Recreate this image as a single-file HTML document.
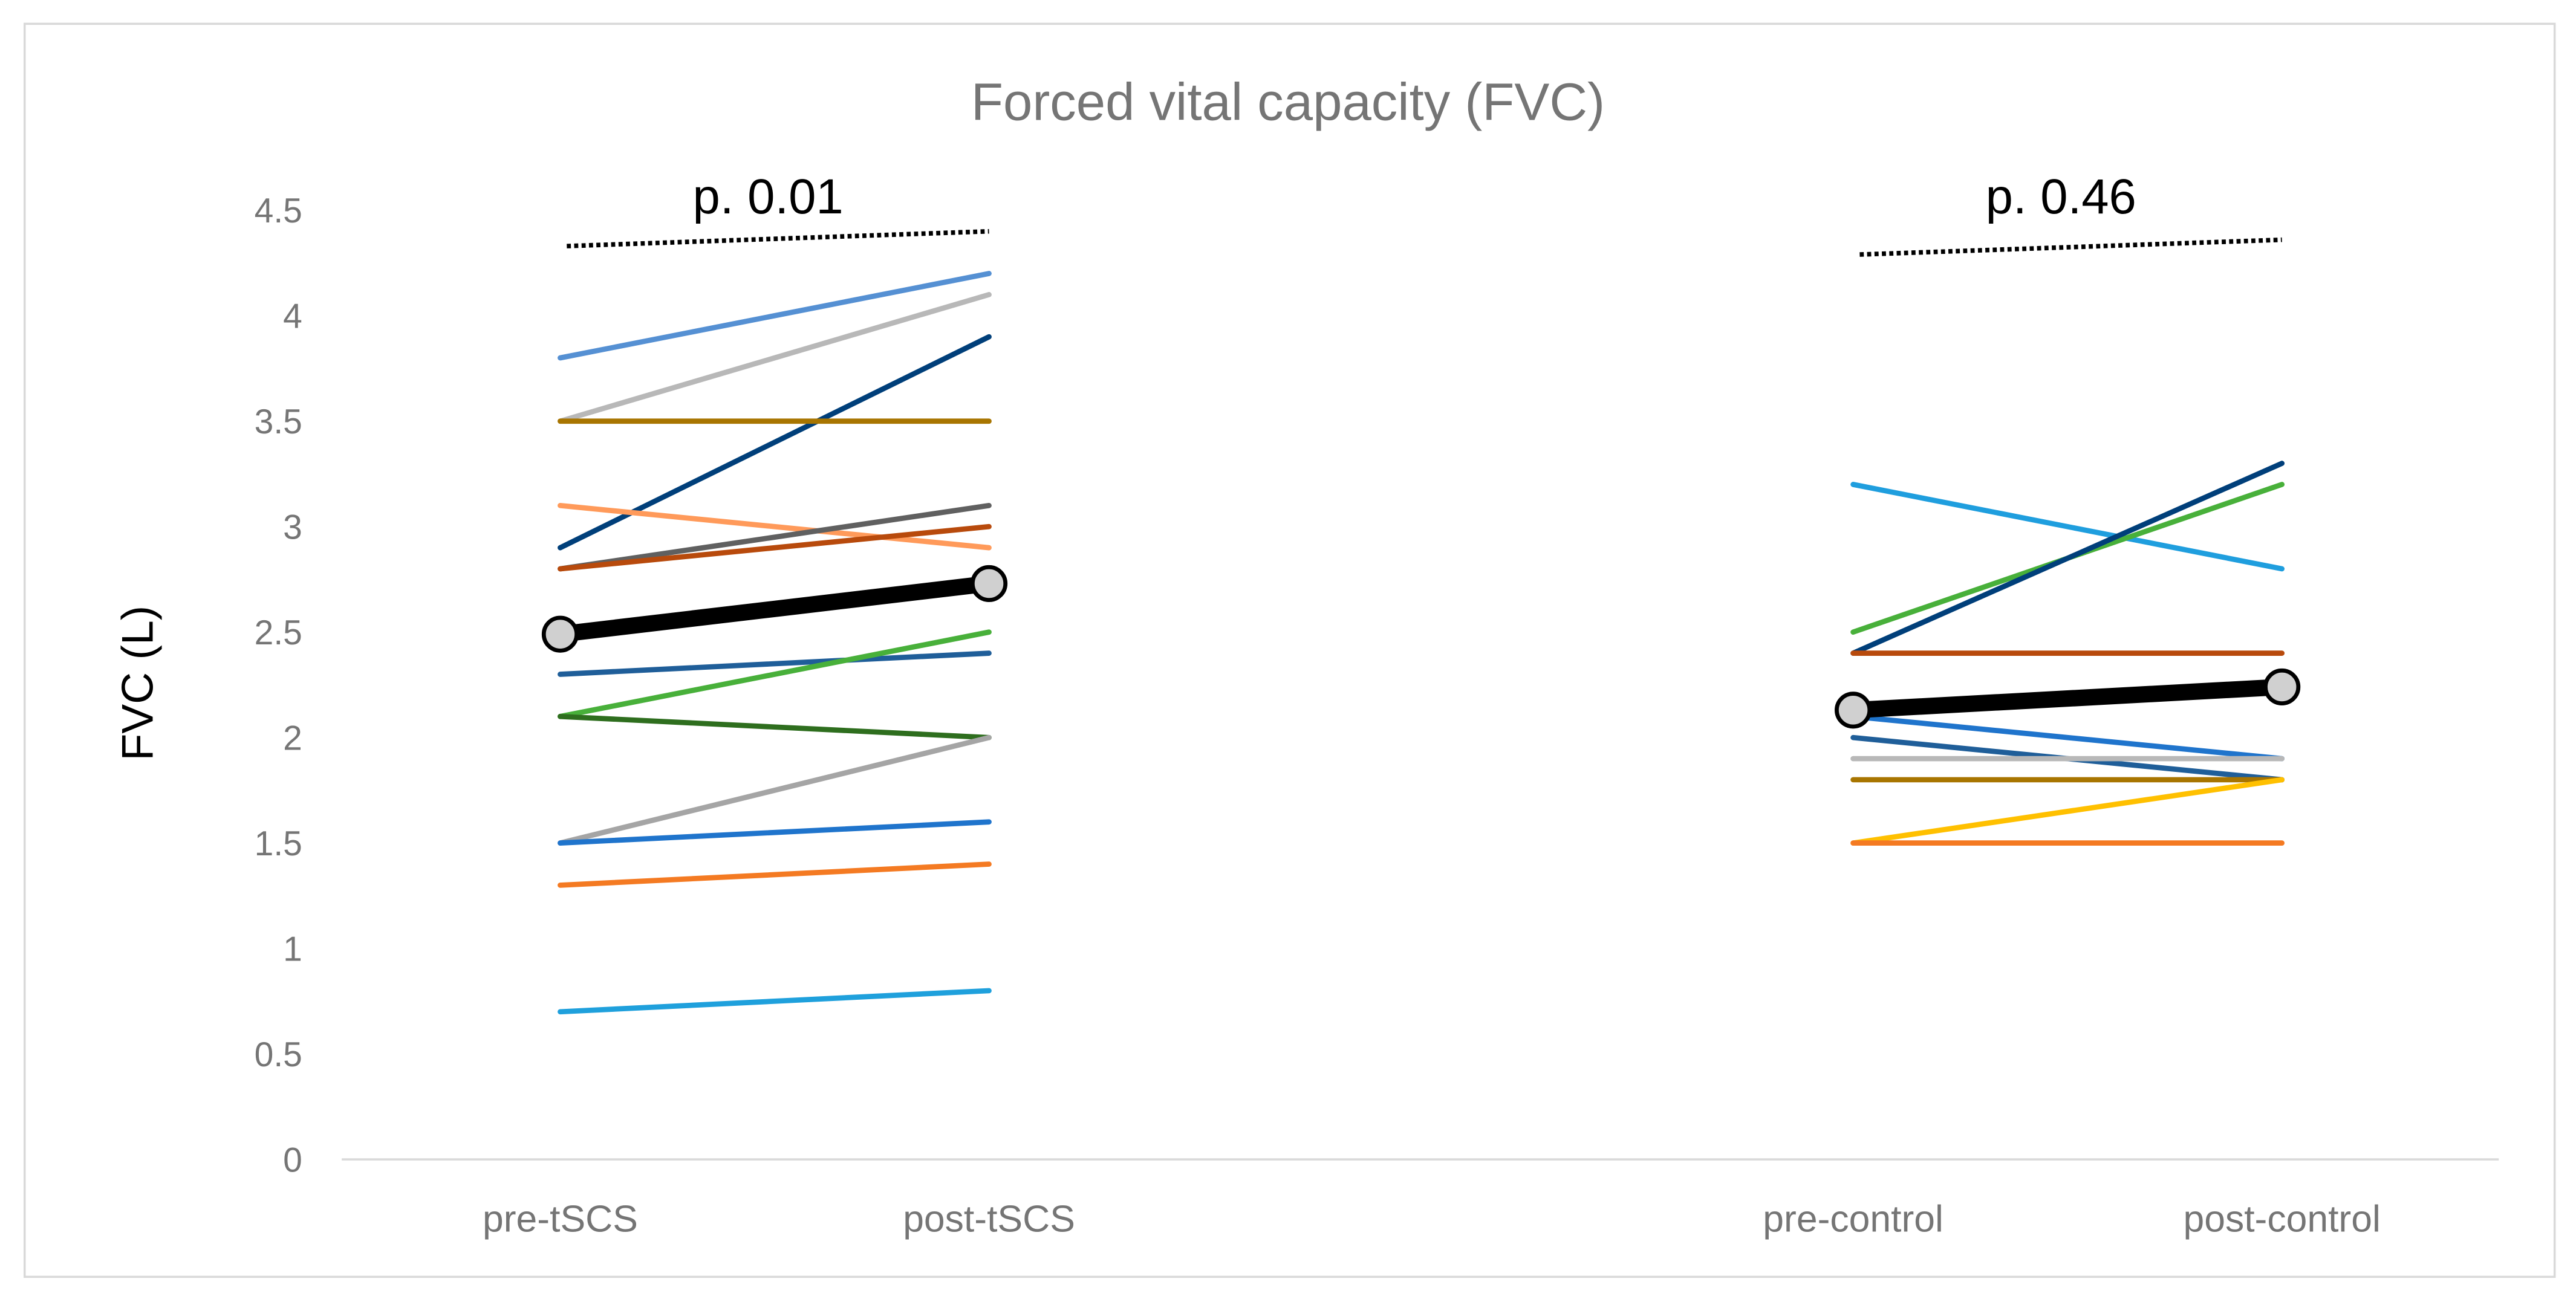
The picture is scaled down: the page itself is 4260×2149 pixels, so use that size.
<!DOCTYPE html>
<html><head><meta charset="utf-8"><style>
html,body{margin:0;padding:0;background:#fff;}
svg{display:block;}
</style></head><body>
<svg id="chart" width="4260" height="2149" viewBox="0 0 1568 791" xmlns="http://www.w3.org/2000/svg" font-family="'Liberation Sans', sans-serif">
<rect x="15" y="14.5" width="1540" height="763" fill="#fff" stroke="#d9d9d9" stroke-width="1.3"/>
<text x="784" y="73" text-anchor="middle" font-size="32" fill="#757575">Forced vital capacity (FVC)</text>
<text transform="translate(93,416) rotate(-90)" text-anchor="middle" font-size="27" fill="#000">FVC (L)</text>
<g id="yticks"></g>
<line x1="208" y1="706" x2="1521" y2="706" stroke="#d9d9d9" stroke-width="1.3"/>
<g id="xlabels"></g>
<g id="series"></g>
<g id="plabels"></g>
</svg>
<script>
const yTicks = [0,0.5,1,1.5,2,2.5,3,3.5,4,4.5];
const categories = ["pre-tSCS","post-tSCS","pre-control","post-control"];
const tscsPre  = [3.8,3.5,2.9,3.5,3.1,2.8,2.8,2.3,2.1,2.1,1.5,1.5,1.3,0.7];
const tscsPost = [4.2,4.1,3.9,3.5,2.9,3.1,3.0,2.4,2.5,2.0,2.0,1.6,1.4,0.8];
const tscsColors = ["#5590d3","#b8b8b8","#003f7a","#a87500","#ff9a5a","#606060","#b84a0c","#1f5e99","#48b03a","#2e6e1e","#a5a5a5","#1f74cc","#f47a22","#1fa0dc"];
const ctrlPre  = [3.2,2.5,2.4,2.4,2.1,2.0,1.9,1.8,1.5,1.5];
const ctrlPost = [2.8,3.2,3.3,2.4,1.9,1.8,1.9,1.8,1.8,1.5];
const ctrlColors = ["#1f9ede","#48b03a","#003f7a","#b84a0c","#1f74cc","#1f5e99","#b8b8b8","#a87500","#ffc000","#f47a22"];
const meanTscs = [2.49,2.73];
const meanCtrl = [2.13,2.24];
const sigTscs = [4.33,4.40];
const sigCtrl = [4.29,4.36];
const pLabels = ["p. 0.01","p. 0.46"];

const NS="http://www.w3.org/2000/svg";
const xPos=[341,602,1128,1389];
const y=v=>706-v*128.44;
const x=i=>xPos[i];
function mk(tag,attrs,parent){const e=document.createElementNS(NS,tag);for(const k in attrs)e.setAttribute(k,attrs[k]);parent.appendChild(e);return e;}
const gy=document.getElementById('yticks');
yTicks.forEach(t=>{const e=mk('text',{x:184,y:y(t)+7.5,'text-anchor':'end','font-size':21,fill:'#757575'},gy);


e.textContent=String(t);});
const gx=document.getElementById('xlabels');
categories.forEach((c,i)=>{const e=mk('text',{x:x(i),y:750,'text-anchor':'middle','font-size':23,fill:'#757575'},gx);


e.textContent=c;});
const gs=document.getElementById('series');
function drawGroup(pre,post,cols,i0){pre.forEach((v,k)=>{const l=mk('line',{x1:x(i0),y1:y(v),x2:x(i0+1),y2:y(post[k]),stroke:cols[k],'stroke-width':3.2,'stroke-linecap':'round'},gs);

});}
drawGroup(tscsPre,tscsPost,tscsColors,0);
drawGroup(ctrlPre,ctrlPost,ctrlColors,2);
function drawMean(m,i0){const l=mk('line',{x1:x(i0),y1:y(m[0]),x2:x(i0+1),y2:y(m[1]),stroke:'#000','stroke-width':10},gs);


m.forEach((v,k)=>{const c=mk('circle',{cx:x(i0+k),cy:y(v),r:10,fill:'#d0d0d0',stroke:'#000','stroke-width':2.5},gs);

});}
drawMean(meanTscs,0);drawMean(meanCtrl,2);
function drawSig(s,i0,label){const l=mk('line',{x1:x(i0)+4,y1:y(s[0]),x2:x(i0+1),y2:y(s[1]),stroke:'#000','stroke-width':2.8,'stroke-dasharray':'2.5 2'},gs);


const t=mk('text',{x:(x(i0)+x(i0+1))/2-4,y:130,'text-anchor':'middle','font-size':30,fill:'#000'},document.getElementById('plabels'));


t.textContent=label;}
drawSig(sigTscs,0,pLabels[0]);drawSig(sigCtrl,2,pLabels[1]);
</script>
</body></html>
